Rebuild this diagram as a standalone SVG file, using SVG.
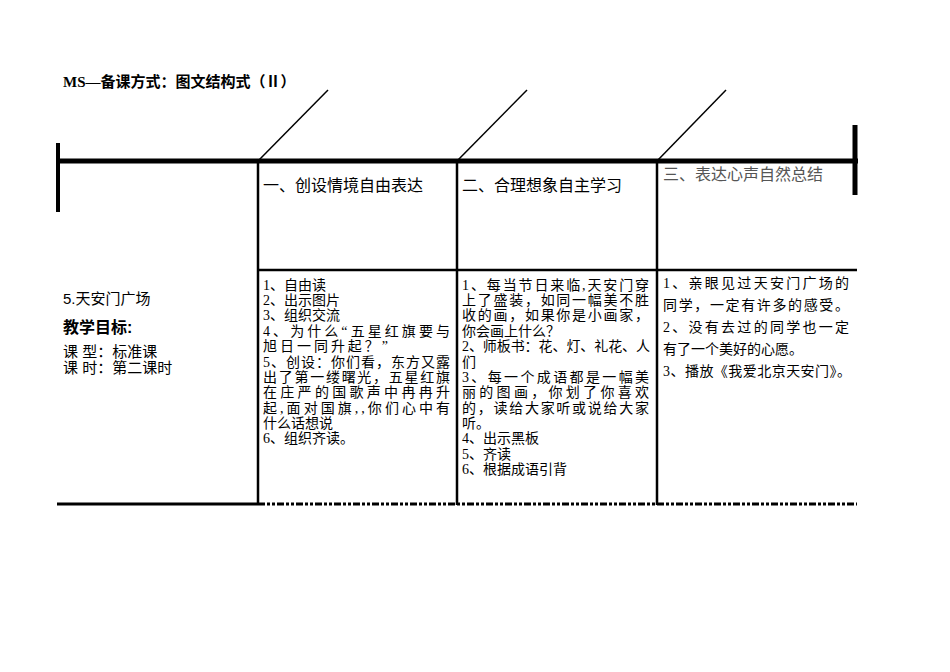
<svg xmlns="http://www.w3.org/2000/svg" width="950" height="672" viewBox="0 0 950 672">
<style>
.s{font-family:"Liberation Serif","Noto Sans CJK SC",serif;font-size:14px;fill:#000}
.h{font-family:"Liberation Sans","Noto Sans CJK SC",sans-serif;font-size:16px;fill:#000}
.l{font-family:"Liberation Sans","Noto Sans CJK SC",sans-serif;font-size:15px;fill:#000}
</style>
<rect width="950" height="672" fill="#fff"/>
<g id="connectors" stroke="#000" fill="none">
<line x1="56" y1="161" x2="858" y2="161" stroke-width="5"/>
<line x1="58" y1="143" x2="58" y2="212" stroke-width="4"/>
<line x1="855" y1="125" x2="855" y2="195" stroke-width="5"/>
<line x1="258" y1="161" x2="328" y2="90" stroke-width="1.5"/>
<line x1="457" y1="161" x2="527" y2="90" stroke-width="1.5"/>
<line x1="657" y1="161" x2="726" y2="90" stroke-width="1.5"/>
<line x1="258" y1="161" x2="258" y2="505" stroke-width="2.5"/>
<line x1="457" y1="161" x2="457" y2="505" stroke-width="2.5"/>
<line x1="657" y1="161" x2="657" y2="505" stroke-width="2.5"/>
<line x1="258" y1="270" x2="857" y2="270" stroke-width="2.5"/>
<line x1="57" y1="504" x2="258" y2="504" stroke-width="3"/>
<line x1="258" y1="504" x2="857" y2="504" stroke-width="3" stroke-dasharray="7,2,3,2,3,2"/>
</g>
<g id="title"><text x="63" y="87" class="s" font-weight="bold" style="font-size:15px">MS—备课方式：图文结构式（Ⅱ）</text></g>
<g id="left">
<text x="63" y="304" class="l">5.天安门广场</text>
<text x="63" y="333" class="l" font-weight="bold" style="font-size:16px">教学目标:</text>
<text x="63" y="357" class="l">课  型：标准课</text>
<text x="63" y="373" class="l">课  时：第二课时</text>
</g>
<g id="h1"><text x="263" y="191" class="h">一、创设情境自由表达</text></g>
<g id="h2"><text x="462" y="191" class="h">二、合理想象自主学习</text></g>
<g id="h3"><text x="663" y="180" class="h" style="fill:#555">三、表达心声自然总结</text></g>
<g id="c1">
<text x="263" y="290" class="s">1、自由读</text>
<text x="263" y="305" class="s">2、出示图片</text>
<text x="263" y="320" class="s">3、组织交流</text>
<text x="263" y="336" class="s" textLength="187">4、为什么“五星红旗要与</text>
<text x="263" y="351" class="s" textLength="125">旭日一同升起？”</text>
<text x="263" y="367" class="s" textLength="187">5、创设：你们看，东方又露</text>
<text x="263" y="382" class="s" textLength="187">出了第一缕曙光，五星红旗</text>
<text x="263" y="397" class="s" textLength="187">在庄严的国歌声中冉冉升</text>
<text x="263" y="413" class="s" textLength="187">起,面对国旗,,你们心中有</text>
<text x="263" y="428" class="s">什么话想说</text>
<text x="263" y="443" class="s">6、组织齐读。</text>
</g>
<g id="c2">
<text x="462" y="290" class="s" textLength="187">1、每当节日来临,天安门穿</text>
<text x="462" y="305" class="s" textLength="187">上了盛装，如同一幅美不胜</text>
<text x="462" y="320" class="s" textLength="187">收的画，如果你是小画家，</text>
<text x="462" y="336" class="s">你会画上什么？</text>
<text x="462" y="351" class="s" textLength="188">2、师板书：花、灯、礼花、人</text>
<text x="462" y="367" class="s">们</text>
<text x="462" y="382" class="s" textLength="187">3、每一个成语都是一幅美</text>
<text x="462" y="397" class="s" textLength="187">丽的图画，你划了你喜欢</text>
<text x="462" y="413" class="s" textLength="187">的，读给大家听或说给大家</text>
<text x="462" y="428" class="s">听。</text>
<text x="462" y="443" class="s">4、出示黑板</text>
<text x="462" y="459" class="s">5、齐读</text>
<text x="462" y="474" class="s">6、根据成语引背</text>
</g>
<g id="c3">
<text x="663" y="288" class="s" textLength="186">1、亲眼见过天安门广场的</text>
<text x="663" y="310" class="s" textLength="186">同学，一定有许多的感受。</text>
<text x="663" y="332" class="s" textLength="186">2、没有去过的同学也一定</text>
<text x="663" y="354" class="s">有了一个美好的心愿。</text>
<text x="663" y="376" class="s" textLength="188">3、播放《我爱北京天安门》。</text>
</g>
</svg>
